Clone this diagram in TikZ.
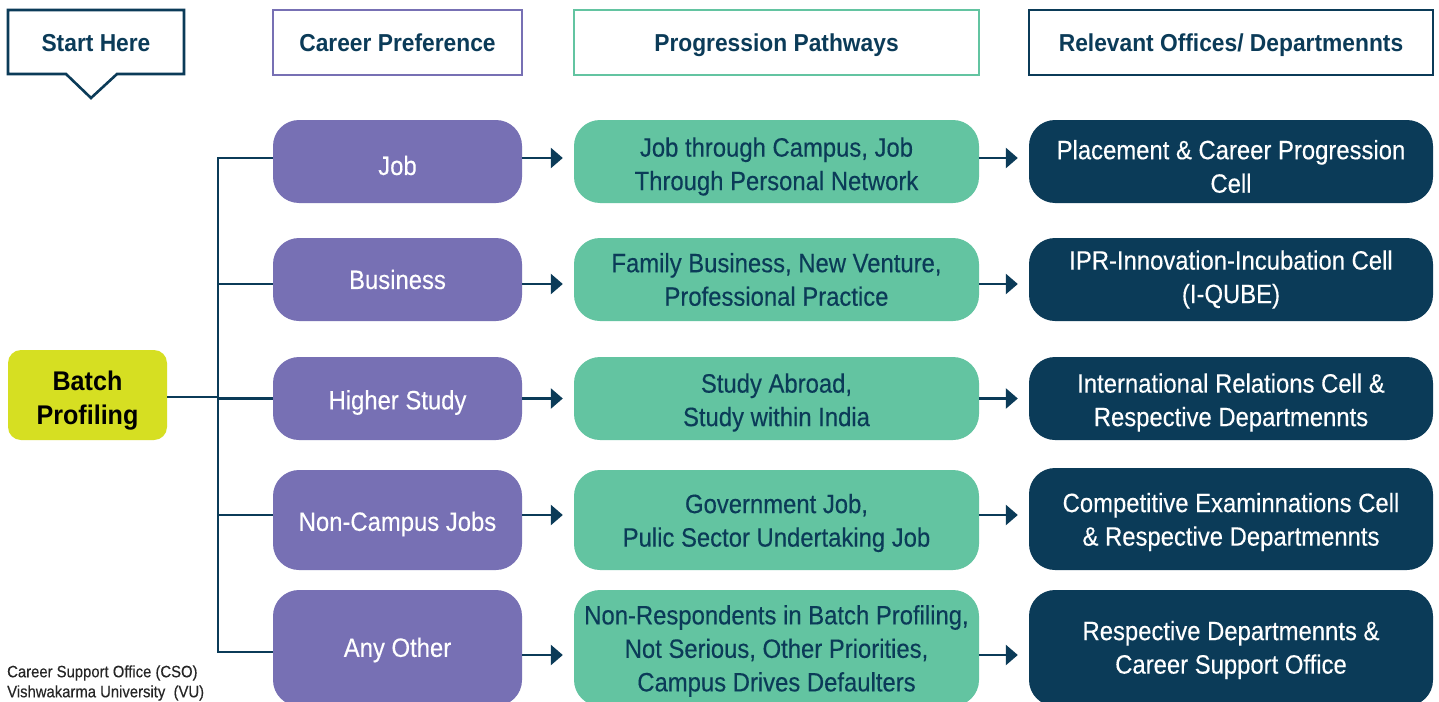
\documentclass[tikz,border=0pt]{standalone}
\usepackage{fontspec}
\setmainfont{Liberation Sans}[FakeStretch=0.90, UprightFeatures={FakeBold=0.3}, BoldFeatures={FakeStretch=0.93}]
\usetikzlibrary{arrows.meta}
\definecolor{dblue}{HTML}{0B3B58}
\definecolor{purp}{HTML}{7770B4}
\definecolor{grn}{HTML}{63C4A1}
\definecolor{ylw}{HTML}{D6DF22}
\newcommand{\rowbox}[7]{%
  \node[#2, minimum height=#5pt] (#1) at (#3,#4) {};
  \node[#2txt] (#1t) at ([yshift=#6pt]#1.center) {#7};
}
\begin{document}
\begin{tikzpicture}[x=1pt,y=-1pt,
  hdrfont/.style={font=\bfseries\fontsize{24.5}{30}\selectfont, text=dblue, text height=18pt, text depth=0pt},
  hdr/.style={draw, line width=2.6pt, fill=white, minimum height=65pt, inner sep=0pt, hdrfont},
  body/.style={rounded corners=26pt, inner sep=0pt},
  bodytxt/.style={inner sep=0pt, align=center, font=\fontsize{26.5}{33.5}\selectfont},
  pbox/.style={body, fill=purp, minimum width=249pt},
  gbox/.style={body, fill=grn, minimum width=405pt},
  dbox/.style={body, fill=dblue, minimum width=404pt},
  pboxtxt/.style={bodytxt, text=white},
  gboxtxt/.style={bodytxt, text=dblue},
  dboxtxt/.style={bodytxt, text=white},
  link/.style={draw=dblue, line width=2.6pt},
  arr/.style={link, -{Triangle[width=20pt,length=12pt]}, shorten >=11pt},
]
\useasboundingbox (0,0) rectangle (1439,701);
\clip (0,0) rectangle (1439,701);
\fill[white] (0,0) rectangle (1439,701);

% headers
\draw[draw=dblue, line width=2.6pt, fill=white, line join=miter]
  (8,10) -- (184,10) -- (184,74) -- (117,74) -- (91,98) -- (66,74) -- (8,74) -- cycle;
\node[hdrfont, inner sep=0pt] (start) at (96,42.5) {Start Here};
\node[hdr, draw=purp, minimum width=249pt] (hcp) at (397.5,42.5) {Career Preference};
\node[hdr, draw=grn, minimum width=405pt] (hpp) at (776.5,42.5) {Progression Pathways};
\node[hdr, draw=dblue, minimum width=404pt] (hro) at (1231,42.5) {Relevant Offices/ Departmennts};

% batch profiling
\node[fill=ylw, rounded corners=13pt, minimum width=159pt, minimum height=90pt, inner sep=0pt] (bp) at (87.5,395) {};
\node[align=center, font=\bfseries\fontsize{27}{34}\selectfont, text=black, inner sep=0pt] (bpt)
  at ([yshift=-6pt]bp.center) {Batch\\Profiling};

% rows
\rowbox{p1}{pbox}{397.5}{161.5}{83}{-4}{Job}
\rowbox{p2}{pbox}{397.5}{279.5}{83}{0}{Business}
\rowbox{p3}{pbox}{397.5}{398.5}{83}{-4}{Higher Study}
\rowbox{p4}{pbox}{397.5}{520}{100}{-4}{Non-Campus Jobs}
\rowbox{p5}{pbox}{397.5}{648}{116}{-2}{Any Other}

\rowbox{g1}{gbox}{776.5}{161.5}{83}{-5}{Job through Campus, Job\\Through Personal Network}
\rowbox{g2}{gbox}{776.5}{279.5}{83}{0}{Family Business, New Venture,\\Professional Practice}
\rowbox{g3}{gbox}{776.5}{398.5}{83}{-4}{Study Abroad,\\Study within India}
\rowbox{g4}{gbox}{776.5}{520}{100}{-3}{Government Job,\\Pulic Sector Undertaking Job}
\rowbox{g5}{gbox}{776.5}{648}{116}{-3}{Non-Respondents in Batch Profiling,\\Not Serious, Other Priorities,\\Campus Drives Defaulters}

\rowbox{d1}{dbox}{1231}{161.5}{83}{-5}{Placement \& Career Progression\\Cell}
\rowbox{d2}{dbox}{1231}{279.5}{83}{0}{IPR-Innovation-Incubation Cell\\(I-QUBE)}
\rowbox{d3}{dbox}{1231}{398.5}{83}{-4}{International Relations Cell \&\\Respective Departmennts}
\rowbox{d4}{dbox}{1231}{519}{102}{-3}{Competitive Examinnations Cell\\\& Respective Departmennts}
\rowbox{d5}{dbox}{1231}{648}{116}{-2}{Respective Departmennts \&\\Career Support Office}

% tree
\coordinate (tj) at (218,397);
\draw[link] (bp.east |- tj) -- (tj);
\draw[link] (tj) |- ([yshift=3.5pt]p1.west);
\draw[link] (tj) |- ([yshift=-4.5pt]p2.west);
\draw[link] (tj) |- (p3.west);
\draw[link] (tj) |- ([yshift=5pt]p4.west);
\draw[link] (tj) |- ([yshift=-4pt]p5.west);

% arrows
\foreach \i/\dy in {1/3.5,2/-4.5,3/0,4/5,5/-7}{
  \draw[arr] ([yshift=\dy pt]p\i.east) -- ([yshift=\dy pt]p\i.east -| g\i.west);
  \draw[arr] ([yshift=\dy pt]g\i.east) -- ([yshift=\dy pt]g\i.east -| d\i.west);
}

% footer
\node[anchor=west, align=left, font=\fontsize{16.5}{20}\selectfont, text=black!85, inner sep=0pt] (cso) at (7,683)
  {Career Support Office (CSO)\\Vishwakarma University\ \ (VU)};
\end{tikzpicture}
\end{document}
